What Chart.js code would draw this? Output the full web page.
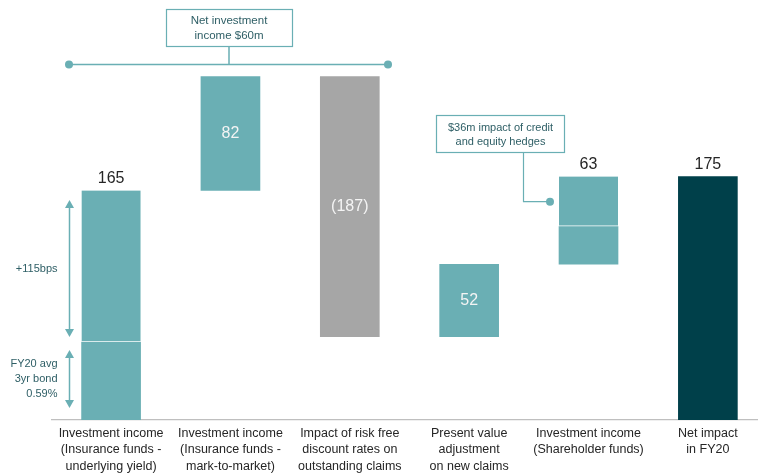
<!DOCTYPE html>
<html>
<head>
<meta charset="utf-8">
<script src="https://cdn.jsdelivr.net/npm/chart.js@4.4.1/dist/chart.umd.min.js"></script>
<style>
  html, body { margin: 0; padding: 0; background: #fff; }
  #wrap { width: 758px; height: 474px; }
</style>
</head>
<body>
<div id="wrap"><canvas id="chart"></canvas></div>
<script>
const categories = [
    ["Investment income", "(Insurance funds -", "underlying yield)"],
    ["Investment income", "(Insurance funds -", "mark-to-market)"],
    ["Impact of risk free", "discount rates on", "outstanding claims"],
    ["Present value", "adjustment", "on new claims"],
    ["Investment income", "(Shareholder funds)"],
    ["Net impact", "in FY20"]
];
const values = [165, 82, -187, 52, 63, 175];
const isTotal = [false, false, false, false, false, true];
// where the white divider sits inside a bar (0.59% bond part / $36m hedges part)
const splitAt = [56, null, null, null, 139, null];
const valueLabels = ["165", "82", "(187)", "52", "63", "175"];
const labelInside = [false, true, true, true, false, false];

const TEAL = "#6aafb4";
const GREY = "#a6a6a6";
const DARK = "#00404a";
const NOTE = "#2f5f66";
const barColors = [TEAL, TEAL, GREY, TEAL, TEAL, DARK];

// running totals for the waterfall
let run = 0;
const ranges = values.map((v, i) => {
    if (isTotal[i]) return [0, v];
    const r = [run, run + v];
    run += v;
    return r;
});

const mainData = ranges.map((r, i) => {
    const lo = Math.min(r[0], r[1]), hi = Math.max(r[0], r[1]);
    return { x: i, y: splitAt[i] != null ? [lo, splitAt[i]] : [lo, hi] };
});
const upperData = [];
ranges.forEach((r, i) => {
    if (splitAt[i] != null) upperData.push({ x: i, y: [splitAt[i], Math.max(r[0], r[1])] });
});

function dot(ctx, x, y) {
    ctx.beginPath();
    ctx.arc(x, y, 4, 0, Math.PI * 2);
    ctx.fill();
}

function arrow(ctx, x, y1, y2) {
    // double headed vertical arrow
    ctx.beginPath();
    ctx.moveTo(x, y1 + 6);
    ctx.lineTo(x, y2 - 6);
    ctx.stroke();
    ctx.beginPath();
    ctx.moveTo(x, y1); ctx.lineTo(x - 4.5, y1 + 8); ctx.lineTo(x + 4.5, y1 + 8); ctx.closePath();
    ctx.fill();
    ctx.beginPath();
    ctx.moveTo(x, y2); ctx.lineTo(x - 4.5, y2 - 8); ctx.lineTo(x + 4.5, y2 - 8); ctx.closePath();
    ctx.fill();
}

const notes = {
    id: "notes",
    afterDatasetsDraw(chart) {
        const ctx = chart.ctx;
        const xs = chart.scales.x, ys = chart.scales.y;
        ctx.save();

        // value labels
        ctx.textAlign = "center";
        ctx.textBaseline = "middle";
        ctx.font = "16px 'Liberation Sans', Arial, sans-serif";
        ranges.forEach((r, i) => {
            const x = xs.getPixelForValue(i);
            if (labelInside[i]) {
                ctx.fillStyle = "#f4f4f4";
                ctx.fillText(valueLabels[i], x, ys.getPixelForValue((r[0] + r[1]) / 2));
            } else {
                ctx.fillStyle = "#262626";
                ctx.fillText(valueLabels[i], x, ys.getPixelForValue(Math.max(r[0], r[1])) - 12);
            }
        });

        ctx.strokeStyle = TEAL;
        ctx.fillStyle = TEAL;
        ctx.lineWidth = 1.5;

        // net investment income bracket
        ctx.beginPath();
        ctx.moveTo(69, 64.5); ctx.lineTo(388, 64.5);
        ctx.moveTo(229, 47); ctx.lineTo(229, 64.5);
        ctx.stroke();
        dot(ctx, 69, 64.5);
        dot(ctx, 388, 64.5);
        ctx.lineWidth = 1.2;
        ctx.strokeRect(166.5, 9.5, 126, 37);

        // hedges callout
        const hy = ys.getPixelForValue((splitAt[4] + ranges[4][1]) / 2);
        ctx.lineWidth = 1.2;
        ctx.strokeRect(436.5, 115.5, 128, 37);
        ctx.beginPath();
        ctx.moveTo(523.5, 153); ctx.lineTo(523.5, hy); ctx.lineTo(550, hy);
        ctx.stroke();
        dot(ctx, 550, hy);

        // left side arrows
        ctx.lineWidth = 1.5;
        arrow(ctx, 69.5, 200, 337);
        arrow(ctx, 69.5, 350, 408);

        // note texts
        ctx.fillStyle = NOTE;
        ctx.font = "11.5px 'Liberation Sans', Arial, sans-serif";
        ctx.textAlign = "center";
        ctx.fillText("Net investment", 229, 21);
        ctx.fillText("income $60m", 229, 36);
        ctx.font = "11px 'Liberation Sans', Arial, sans-serif";
        ctx.fillText("$36m impact of credit", 500.5, 128);
        ctx.fillText("and equity hedges", 500.5, 142);
        ctx.textAlign = "right";
        ctx.fillText("+115bps", 57.5, 269);
        ctx.fillText("FY20 avg", 57.5, 364);
        ctx.fillText("3yr bond", 57.5, 379);
        ctx.fillText("0.59%", 57.5, 394);

        ctx.restore();
    }
};

new Chart(document.getElementById("chart"), {
    type: "bar",
    data: {
        datasets: [
            {
                label: "main",
                data: mainData,
                backgroundColor: barColors,
                borderWidth: 0,
                barThickness: 59,
                grouped: false
            },
            {
                label: "upper",
                data: upperData,
                backgroundColor: TEAL,
                borderColor: "#ffffff",
                borderWidth: { top: 0, left: 0, right: 0, bottom: 1.5 },
                borderSkipped: false,
                barThickness: 59,
                grouped: false
            }
        ]
    },
    options: {
        responsive: true,
        maintainAspectRatio: false,
        animation: false,
        devicePixelRatio: 1,
        layout: { padding: { left: 52, right: 0, top: 0, bottom: 0 } },
        plugins: {
            legend: { display: false },
            tooltip: { enabled: false }
        },
        scales: {
            x: {
                type: "linear",
                offset: false,
                bounds: "data",
                min: -0.495,
                max: 5.42,
                grid: { display: false, drawTicks: false },
                border: { display: true, color: "#bfbfbf", width: 1.2 },
                afterBuildTicks(scale) {
                    scale.ticks = categories.map((c, i) => ({ value: i }));
                },
                afterFit(scale) {
                    scale.height = 54;
                },
                ticks: {
                    autoSkip: false,
                    maxRotation: 0,
                    padding: 5,
                    color: "#262626",
                    font: { family: "'Liberation Sans', Arial, sans-serif", size: 12.5, lineHeight: 1.33 },
                    callback: (value, index) => categories[index]
                }
            },
            y: {
                display: false,
                min: 0,
                max: 302
            }
        }
    },
    plugins: [notes]
});
</script>
</body>
</html>
